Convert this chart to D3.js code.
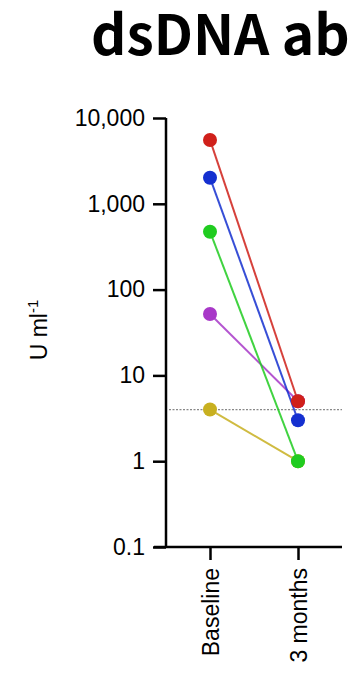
<!DOCTYPE html>
<html>
<head>
<meta charset="utf-8">
<script src="https://cdn.jsdelivr.net/npm/d3@7"></script>
<style>
  body { margin: 0; background: #fff; }
  svg { display: block; }
</style>
</head>
<body>
<div id="chart"></div>
<script>
// Timepoints and patient values (U/ml)
const timepoints = ["Baseline", "3 months"];
const patients = ["red", "blue", "green", "purple", "yellow"];
const baselineValues = [5550, 2010, 473, 52, 4];
const threeMonthValues = [5, 3, 1, 5, 1];
const colors = ["#d0201a", "#1530d0", "#20cc20", "#a838c8", "#c8b020"];
const yTicks = [0.1, 1, 10, 100, 1000, 10000];
const cutoff = 4;

const width = 351, height = 674;
const margin = { top: 118, right: 9, bottom: 127, left: 166 };

const svg = d3.select("#chart")
    .append("svg")
    .attr("width", width)
    .attr("height", height);

// Title
svg.append("text")
    .attr("x", 91)
    .attr("y", 55)
    .attr("font-family", "'Noto Sans CJK JP', 'Noto Sans', sans-serif")
    .attr("font-weight", "bold")
    .attr("font-size", 55)
    .attr("fill", "#000")
    .text("dsDNA ab");

const x = d3.scalePoint()
    .domain(timepoints)
    .range([margin.left, width - margin.right])
    .padding(0.5);

const y = d3.scaleLog()
    .domain([0.1, 10000])
    .range([height - margin.bottom, margin.top]);

// Y axis
const yAxis = svg.append("g")
    .attr("transform", `translate(${margin.left},0)`)
    .call(d3.axisLeft(y).tickValues(yTicks).tickFormat(d3.format(",")).tickSize(13).tickPadding(8));
yAxis.select(".domain").attr("stroke-width", 2.5).attr("d", `M0,${y(10000)}V${y(0.1)}`);
yAxis.selectAll(".tick line").attr("stroke-width", 2.5);
yAxis.selectAll(".tick text")
    .attr("font-family", "'Liberation Sans', Arial, sans-serif")
    .attr("font-size", 23)
    .attr("fill", "#000");

// X axis
const xAxis = svg.append("g")
    .attr("transform", `translate(0,${height - margin.bottom})`)
    .call(d3.axisBottom(x).tickSize(13).tickSizeOuter(0));
xAxis.select(".domain").attr("stroke-width", 2.5).attr("d", `M${margin.left - 12},0H${width - margin.right}`);
xAxis.selectAll(".tick line").attr("stroke-width", 2.5);
xAxis.selectAll(".tick text")
    .attr("font-family", "'Liberation Sans', Arial, sans-serif")
    .attr("font-size", 23)
    .attr("fill", "#000")
    .attr("text-anchor", "end")
    .attr("transform", "rotate(-90)")
    .attr("x", -21)
    .attr("y", 0)
    .attr("dy", "0.35em");

// Y label
svg.append("text")
    .attr("transform", `translate(47,330) rotate(-90)`)
    .attr("text-anchor", "middle")
    .attr("font-family", "'Liberation Sans', Arial, sans-serif")
    .attr("font-size", 23)
    .attr("fill", "#000")
    .html("U ml<tspan dy='-9' font-size='15'>-1</tspan>");

// Detection cutoff line
svg.append("line")
    .attr("x1", margin.left + 3)
    .attr("x2", width - margin.right)
    .attr("y1", y(cutoff))
    .attr("y2", y(cutoff))
    .attr("stroke", "#888")
    .attr("stroke-width", 1.3)
    .attr("stroke-dasharray", "2,1.5");

// Patient lines and points, red drawn last
const data = patients.map((p, i) => ({
    name: p,
    color: colors[i],
    values: [baselineValues[i], threeMonthValues[i]]
})).reverse();

const series = svg.append("g")
    .selectAll("g")
    .data(data)
    .join("g");

series.append("line")
    .attr("x1", x(timepoints[0]))
    .attr("x2", x(timepoints[1]))
    .attr("y1", (d) => y(d.values[0]))
    .attr("y2", (d) => y(d.values[1]))
    .attr("stroke", (d) => d.color)
    .attr("stroke-width", 2)
    .attr("opacity", 0.85);

series.selectAll("circle")
    .data((d) => d.values.map((v, j) => ({ v, t: timepoints[j], color: d.color })))
    .join("circle")
    .attr("cx", (d) => x(d.t))
    .attr("cy", (d) => y(d.v))
    .attr("r", 7)
    .attr("fill", (d) => d.color);
</script>
</body>
</html>
